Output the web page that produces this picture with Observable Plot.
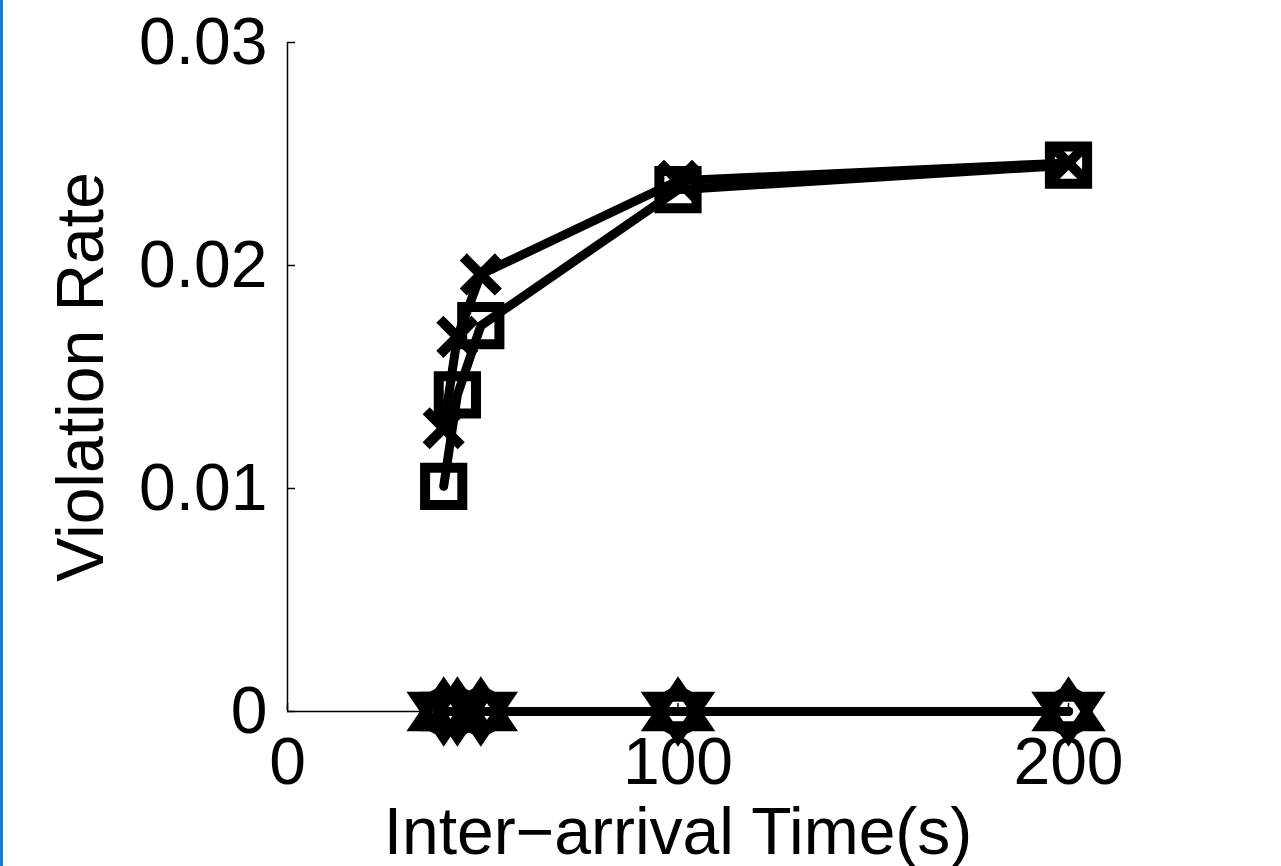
<!DOCTYPE html>
<html><head><meta charset="utf-8">
<script src="https://cdn.jsdelivr.net/npm/d3@7"></script>
<script src="https://cdn.jsdelivr.net/npm/@observablehq/plot@0.6"></script>
<style>
html,body{margin:0;padding:0;background:#fff;}
#wrap{position:relative;width:1281px;height:866px;overflow:hidden;background:#fff;}
#edge{position:absolute;left:0;top:0;width:3px;height:866px;background:#1b78cc;z-index:2;}
#wrap svg{position:absolute;left:0;top:0;}
</style></head><body><div id="wrap"><div id="edge"></div></div>
<script>
// Data
const interArrival = [40, 43.5, 49.5, 100, 200];
const rateSquare   = [0.0101, 0.0142, 0.0173, 0.0234, 0.0245];
const rateCross    = [0.0127, 0.0168, 0.0196, 0.0238, 0.0246];
const rateCircle   = [0, 0, 0, 0, 0];
const rateTriUp    = [0, 0, 0, 0, 0];
const rateTriDown  = [0, 0, 0, 0, 0];
const xTicks = [0, 100, 200];
const yTicks = [0, 0.01, 0.02, 0.03];
const xLabel = "Inter\u2212arrival Time(s)";
const yLabel = "Violation Rate";

const toRows = (name, ys) => interArrival.map((x, i) => ({series: name, x, y: ys[i]}));
const sq = toRows("square", rateSquare);
const cr = toRows("cross", rateCross);
const ci = toRows("circle", rateCircle);
const tu = toRows("triUp", rateTriUp);
const td = toRows("triDown", rateTriDown);
const all = [...sq, ...cr, ...ci, ...tu, ...td];

// MATLAB-like (wider than equilateral) triangle markers
function triangleSymbol(dir) {
  return {
    draw(ctx, size) {
      const r = Math.sqrt(size / Math.PI);
      ctx.moveTo(0, -1.25 * r * dir);
      ctx.lineTo(-1.325 * r, 0.7 * r * dir);
      ctx.lineTo(1.325 * r, 0.7 * r * dir);
      ctx.closePath();
    }
  };
}

const font = "'Liberation Sans', Arial, Helvetica, sans-serif";
const mk = {stroke: "black", fill: "none", strokeWidth: 10};

const chart = Plot.plot({
  width: 1281, height: 866,
  marginLeft: 287, marginRight: 213, marginTop: 42, marginBottom: 155,
  style: {fontFamily: font, background: "white", color: "black", overflow: "visible"},
  x: {domain: [0, 200]},
  y: {domain: [0, 0.03]},
  marks: [
    Plot.ruleX([0], {stroke: "black", strokeWidth: 1.5}),
    Plot.ruleY([0], {stroke: "black", strokeWidth: 1.5}),
    Plot.axisY(yTicks, {tickSize: -8, fill: "none", stroke: "black", strokeWidth: 1.5, label: null}),
    Plot.axisX(xTicks, {tickSize: -8, fill: "none", stroke: "black", strokeWidth: 1.5, label: null}),
    Plot.axisY(yTicks, {tickSize: 0, tickPadding: 20, fontSize: 66, label: null,
      tickFormat: d => d === 0 ? "0" : d3.format(".2f")(d)}),
    Plot.axisX(xTicks, {tickSize: 0, tickPadding: 26, fontSize: 66, label: null,
      tickFormat: d => String(d)}),
    Plot.text([yLabel], {frameAnchor: "left", textAnchor: "middle", lineAnchor: "middle", rotate: -90, dx: -206, fontSize: 66, fill: "black"}),
    Plot.text([xLabel], {frameAnchor: "bottom", textAnchor: "middle", lineAnchor: "bottom", dy: 142, fontSize: 66, fill: "black"}),
    Plot.line(all, {x: "x", y: "y", z: "series", stroke: "black", strokeWidth: 9}),
    Plot.dot(sq, {x: "x", y: "y", symbol: "square", r: 21, ...mk}),
    Plot.dot(cr, {x: "x", y: "y", symbol: "times", r: 16, ...mk}),
    Plot.dot(ci, {x: "x", y: "y", symbol: "circle", r: 19, ...mk}),
    Plot.dot(tu, {x: "x", y: "y", symbol: triangleSymbol(1), r: 21, ...mk}),
    Plot.dot(td, {x: "x", y: "y", symbol: triangleSymbol(-1), r: 21, ...mk})
  ]
});
document.getElementById("wrap").appendChild(chart);
</script>
</body></html>
